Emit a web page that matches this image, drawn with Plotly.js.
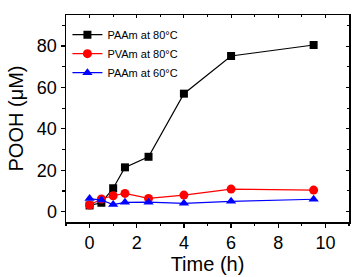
<!DOCTYPE html>
<html><head><meta charset="utf-8">
<script src="https://cdn.plot.ly/plotly-3.0.1.min.js"></script>
<style>html,body{margin:0;padding:0;background:#fff}</style>
</head><body><div id="chart" style="width:361px;height:277px"></div>
<script>
const timeH = [0, 0.5, 1, 1.5, 2.5, 4, 6, 9.5];
const paam80 = [3.0, 4.3, 11.3, 21.4, 26.5, 57.0, 75.2, 80.5];
const pvam80 = [3.2, 6.1, 7.7, 8.8, 6.4, 8.0, 10.9, 10.4];
const paam60 = [6.3, 5.6, 3.4, 4.5, 4.6, 4.0, 5.0, 6.0];
const seriesNames = ['PAAm at 80°C', 'PVAm at 80°C', 'PAAm at 60°C'];

const font = 'Liberation Sans, Arial, sans-serif';
const traces = [
  {x: timeH, y: paam80, name: seriesNames[0], mode: 'lines+markers',
   line: {color: '#000', width: 1.2}, marker: {symbol: 'square', size: 8, color: '#000'}},
  {x: timeH, y: pvam80, name: seriesNames[1], mode: 'lines+markers',
   line: {color: '#ff0000', width: 1.2}, marker: {symbol: 'circle', size: 9, color: '#ff0000'}},
  {x: timeH, y: paam60, name: seriesNames[2], mode: 'lines+markers',
   line: {color: '#0000ff', width: 1.2}, marker: {symbol: 'triangle-up', size: 9, color: '#0000ff'}}
];
const axCommon = {showgrid: false, zeroline: false, showline: true, linecolor: '#000', linewidth: 1.5,
  ticks: 'outside', ticklen: 4, tickwidth: 1.2, tickcolor: '#000',
  tickfont: {family: font, size: 18, color: '#000'}};
const layout = {
  width: 361, height: 277,
  margin: {l: 66, r: 12, t: 15, b: 55},
  paper_bgcolor: '#fff', plot_bgcolor: '#fff',
  showlegend: true,
  legend: {x: 0.005, y: 0.975, xanchor: 'left', yanchor: 'top', bgcolor: 'rgba(0,0,0,0)',
    font: {family: font, size: 11, color: '#000'}, tracegroupgap: 0, itemwidth: 30},
  xaxis: Object.assign({}, axCommon, {range: [-1, 11], dtick: 2, tick0: 0,
    minor: {dtick: 1, ticks: 'outside', ticklen: 2.5, tickcolor: '#000'},
    title: {text: 'Time (h)', font: {family: font, size: 20, color: '#000'}, standoff: 3}}),
  yaxis: Object.assign({}, axCommon, {range: [-5, 95], dtick: 20, tick0: 0,
    minor: {dtick: 10, ticks: 'outside', ticklen: 2.5, tickcolor: '#000'},
    title: {text: 'POOH (μM)', font: {family: font, size: 20, color: '#000'}, standoff: 8}}),
  xaxis2: {overlaying: 'x', side: 'top', range: [-1, 11], dtick: 2, tick0: 0, showgrid: false, zeroline: false,
    showline: true, linecolor: '#000', linewidth: 1.5, ticks: 'inside', ticklen: 3, tickcolor: '#000', showticklabels: false,
    minor: {dtick: 1, ticks: 'inside', ticklen: 2, tickcolor: '#000'}},
  yaxis2: {overlaying: 'y', side: 'right', range: [-5, 95], dtick: 20, tick0: 0, showgrid: false, zeroline: false,
    showline: true, linecolor: '#000', linewidth: 1.5, ticks: 'inside', ticklen: 3, tickcolor: '#000', showticklabels: false,
    minor: {dtick: 10, ticks: 'inside', ticklen: 2, tickcolor: '#000'}}
};
const dummy = {x: [null], y: [null], xaxis: 'x2', yaxis: 'y2', showlegend: false, hoverinfo: 'skip', mode: 'markers'};
Plotly.newPlot('chart', traces.concat([dummy]), layout, {displayModeBar: false, staticPlot: true});
</script></body></html>
